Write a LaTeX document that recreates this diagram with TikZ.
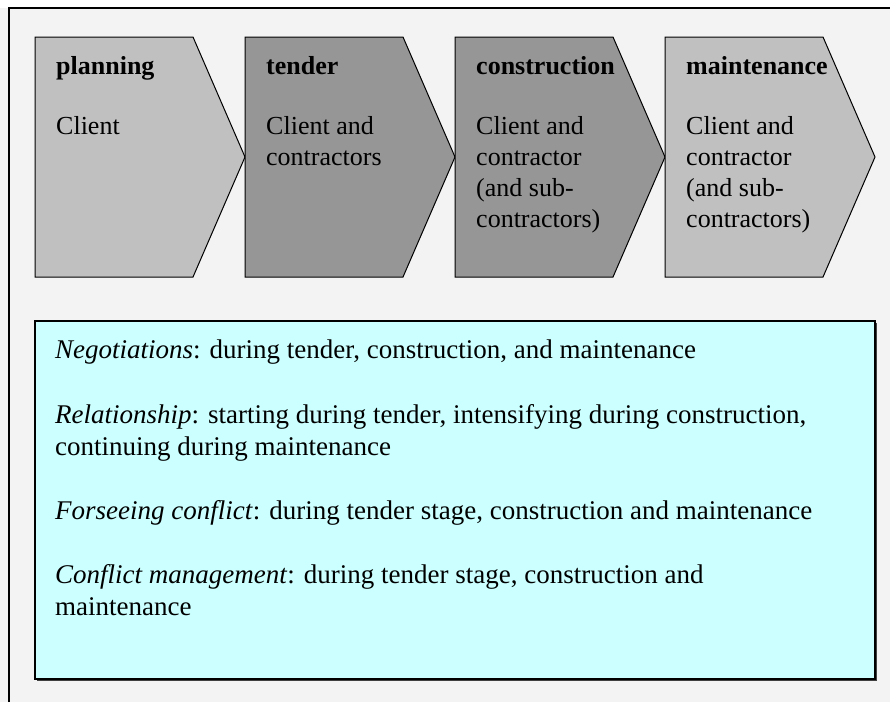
\documentclass[tikz,border=0pt]{standalone}
\usepackage{fontspec}
\setmainfont{Liberation Serif}
\definecolor{bggrey}{HTML}{F3F3F3}
\definecolor{lightchev}{HTML}{C0C0C0}
\definecolor{darkchev}{HTML}{969696}
\definecolor{cyanbox}{HTML}{CCFFFF}
\begin{document}
\begin{tikzpicture}[x=1pt,y=-1pt,
  chev/.style={draw=black,line width=1pt,line join=miter},
  chevtitle/.style={anchor=base west,inner sep=0pt,font=\fontsize{26}{31}\selectfont\bfseries},
  chevbody/.style={anchor=base west,inner sep=0pt,font=\fontsize{26}{31}\selectfont},
  boxtext/.style={anchor=base west,inner sep=0pt,font=\fontsize{27}{32.5}\selectfont}]
\useasboundingbox (0,0) rectangle (890,702);
% background and outer frame
\fill[white] (0,0) rectangle (890,702);
\fill[bggrey] (0,8) rectangle (890,702);
\draw[line width=1.4pt] (9,702) -- (9,8) -- (890,8);
% chevrons
\foreach \x/\c in {35/lightchev,245/darkchev,455/darkchev,665/lightchev}{
  \filldraw[chev,fill=\c] (\x,37) -- ++(158,0) -- ++(52,120) -- ++(-52,120) -- ++(-158,0) -- cycle;
}
\node[chevtitle] (t1) at (56,74) {planning};
\node[chevtitle] (t2) at (266,74) {tender};
\node[chevtitle] (t3) at (476,74) {construction};
\node[chevtitle] (t4) at (686,74) {maintenance};
\node[chevbody] (b1) at (56,134) {Client};
\node[chevbody] (b2) at (266,134) {\begin{tabular}[t]{@{}l@{}}Client and\\contractors\end{tabular}};
\node[chevbody] (b3) at (476,134) {\begin{tabular}[t]{@{}l@{}}Client and\\contractor\\(and sub-\\contractors)\end{tabular}};
\node[chevbody] (b4) at (686,134) {\begin{tabular}[t]{@{}l@{}}Client and\\contractor\\(and sub-\\contractors)\end{tabular}};
% cyan box with shadow
\fill[black!75] (36.5,322.5) rectangle (876.5,680.5);
\filldraw[fill=cyanbox,draw=black,line width=1.3pt] (35,321) rectangle (875,679);
\node[boxtext] (p1) at (55,358) {\textit{Negotiations}: during tender, construction, and maintenance};
\node[boxtext] (p2) at (55,423) {\begin{tabular}[t]{@{}l@{}}\textit{Relationship}: starting during tender, intensifying during construction,\\continuing during maintenance\end{tabular}};
\node[boxtext] (p3) at (55,519) {\textit{Forseeing conflict}: during tender stage, construction and maintenance};
\node[boxtext] (p4) at (55,583) {\begin{tabular}[t]{@{}l@{}}\textit{Conflict management}: during tender stage, construction and\\maintenance\end{tabular}};
\end{tikzpicture}
\end{document}
